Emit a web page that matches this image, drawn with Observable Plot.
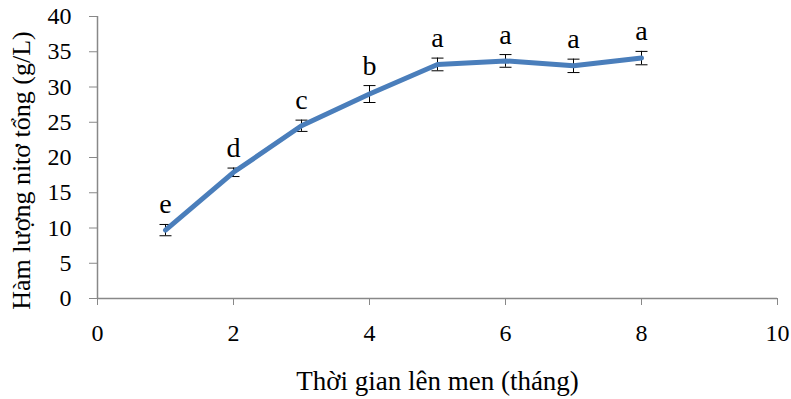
<!DOCTYPE html>
<html><head><meta charset="utf-8">
<script src="https://cdn.jsdelivr.net/npm/d3@7"></script>
<script src="https://cdn.jsdelivr.net/npm/@observablehq/plot@0.6"></script>
<style>body{margin:0;background:#fff}</style>
</head><body><div id="chart"></div>
<script>
const months = [1, 2, 3, 4, 5, 6, 7, 8];
const nitrogen = [9.7, 17.9, 24.5, 29.0, 33.2, 33.7, 33.0, 34.1];
const errors = [0.8, 0.6, 0.8, 1.2, 0.9, 0.9, 0.95, 0.95];
const letters = ["e", "d", "c", "b", "a", "a", "a", "a"];
const xTicks = [0, 2, 4, 6, 8, 10];
const yTicks = [0, 5, 10, 15, 20, 25, 30, 35, 40];
const xTitle = "Thời gian lên men (tháng)";
const yTitle = "Hàm lượng nitơ tổng (g/L)";

const data = months.map((m, i) => ({x: m, y: nitrogen[i], lo: nitrogen[i] - errors[i], hi: nitrogen[i] + errors[i], letter: letters[i]}));
const cap = {draw(ctx) { ctx.moveTo(-6, 0); ctx.lineTo(6, 0); }};
const font = "'Liberation Serif', 'Times New Roman', serif";

const chart = Plot.plot({
  width: 791, height: 399,
  marginLeft: 97, marginRight: 14, marginTop: 16, marginBottom: 101,
  style: {fontFamily: font, fontSize: "24px", color: "#000", background: "#fff"},
  x: {domain: [0, 10]},
  y: {domain: [0, 40]},
  marks: [
    Plot.axisX({ticks: xTicks, tickSize: 7, tickPadding: 18, stroke: "#888", fontSize: 24,
      label: xTitle, labelAnchor: "center", labelOffset: 91, labelArrow: "none"}),
    Plot.axisY({ticks: yTicks, tickSize: 8, tickPadding: 18, stroke: "#888", fontSize: 24, label: null}),
    Plot.text([yTitle], {frameAnchor: "left", text: d => d, rotate: -90, textAnchor: "middle", dx: -76, dy: 13, fontSize: 26, fill: "#000"}),
    Plot.ruleY([0], {stroke: "#888", strokeWidth: 1.5}),
    Plot.ruleX([0], {stroke: "#888", strokeWidth: 1.5}),
    Plot.ruleX(data, {x: "x", y1: "lo", y2: "hi", stroke: "#000", strokeWidth: 1}),
    Plot.dot(data, {x: "x", y: "lo", symbol: cap, stroke: "#000", strokeWidth: 1, r: 6}),
    Plot.dot(data, {x: "x", y: "hi", symbol: cap, stroke: "#000", strokeWidth: 1, r: 6}),
    Plot.line(data, {x: "x", y: "y", stroke: "#4a7ebb", strokeWidth: 5, strokeLinejoin: "round", strokeLinecap: "round"}),
    Plot.text(data, {x: "x", y: "hi", text: "letter", dy: -20, fontSize: 28, fill: "#000"})
  ]
});
chart.querySelectorAll("[aria-label='x-axis label'] text, [aria-label='x-axis label']").forEach(e => e.setAttribute("font-size", 27));
document.getElementById("chart").appendChild(chart);
</script></body></html>
